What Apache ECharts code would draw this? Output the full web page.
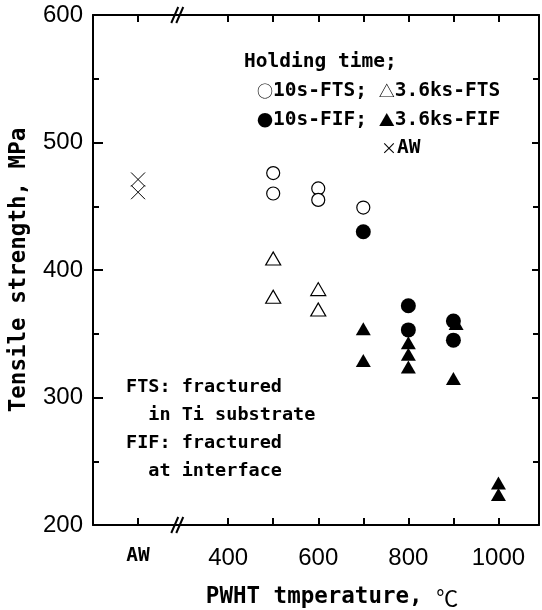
<!DOCTYPE html>
<html>
<head>
<meta charset="utf-8">
<script src="https://cdn.jsdelivr.net/npm/echarts@6/dist/echarts.min.js"></script>
<style>
html,body{margin:0;padding:0;background:#fff;}
#chart{width:542px;height:610px;}
</style>
</head>
<body>
<div id="chart"></div>
<script>
// ---- data (x = PWHT temperature in °C; AW plotted at position 200) ----
const AW_POS = 200;
const BREAK_POS = 287;
const xTickValues = [200, 400, 500, 600, 700, 800, 900, 1000];
const xLabelValues = [200, 400, 600, 800, 1000];

const awX = [200, 200];
const awY = [471, 461];

const fts10X = [500, 500, 600, 600, 700];
const fts10Y = [476, 460, 464, 455, 449];

const fif10X = [700, 800, 800, 900, 900];
const fif10Y = [430, 372, 353, 360, 345];

const fts36X = [500, 500, 600, 600];
const fts36Y = [409, 379, 385, 369];

const fif36X = [700, 700, 800, 800, 800, 906, 900, 1000, 1000];
const fif36Y = [354, 329, 343, 334, 324, 358, 315, 233, 224];

const pairs = (xs, ys) => xs.map((x, i) => [x, ys[i]]);

const MONO = '"DejaVu Sans Mono", monospace';
const SANS = '"Liberation Sans", Arial, sans-serif';
const CJK = '"Noto Sans CJK JP", sans-serif';

const chart = echarts.init(document.getElementById('chart'), null, {renderer: 'canvas'});

const axisLineStyle = {color: '#000', width: 2};
const tickStyle = {color: '#000', width: 2};

const legendRich = {
  t: {fontFamily: MONO, fontWeight: 'bold', fontSize: 19.5, fill: '#000'},
  s: {fontFamily: CJK, fontSize: 16, fill: '#000'}
};
function legendRow(left, y, text) {
  return {
    type: 'text', left: left, top: y - 12,
    style: {text: text, fontFamily: MONO, fontWeight: 'bold', fontSize: 19.5, lineHeight: 24, fill: '#000', rich: legendRich}
  };
}

const option = {
  backgroundColor: '#fff',
  animation: false,
  grid: {left: 93, right: 3, top: 15, bottom: 85, containLabel: false, outerBoundsMode: 'none'},
  xAxis: [{
    type: 'value', min: 100, max: 1090,
    axisLine: {show: true, onZero: false, lineStyle: axisLineStyle},
    axisTick: {show: true, inside: true, length: 7, customValues: xTickValues, lineStyle: tickStyle},
    axisLabel: {
      show: true, customValues: xLabelValues, margin: 21,
      color: '#000', fontFamily: SANS, fontSize: 24,
      formatter: v => v === AW_POS ? '{aw|AW}' : String(v),
      rich: {aw: {fontFamily: MONO, fontWeight: 'bold', fontSize: 19.5, color: '#000'}}
    },
    splitLine: {show: false},
    name: '{t|PWHT tmperature, }{c|℃}',
    nameLocation: 'middle', nameGap: 61,
    nameTextStyle: {
      padding: [0, 0, 0, 32],
      rich: {
        t: {fontFamily: MONO, fontWeight: 'bold', fontSize: 22.5, color: '#000'},
        c: {fontFamily: CJK, fontSize: 22, color: '#000'}
      }
    }
  }, {
    type: 'value', min: 100, max: 1090, position: 'top',
    axisLine: {show: true, onZero: false, lineStyle: axisLineStyle},
    axisTick: {show: true, inside: true, length: 7, customValues: xTickValues, lineStyle: tickStyle},
    axisLabel: {show: false},
    splitLine: {show: false}
  }],
  yAxis: [{
    type: 'value', min: 200, max: 600, interval: 100,
    axisLine: {show: true, onZero: false, lineStyle: axisLineStyle},
    axisTick: {show: true, inside: true, length: 10, lineStyle: tickStyle},
    minorTick: {show: true, splitNumber: 2, length: 6, lineStyle: tickStyle},
    axisLabel: {color: '#000', fontFamily: SANS, fontSize: 24, margin: 10},
    splitLine: {show: false},
    name: 'Tensile strength, MPa',
    nameLocation: 'middle', nameGap: 62, nameRotate: 90,
    nameTextStyle: {fontFamily: MONO, fontWeight: 'bold', fontSize: 22.5, color: '#000'}
  }, {
    type: 'value', min: 200, max: 600, interval: 100, position: 'right',
    axisLine: {show: true, onZero: false, lineStyle: axisLineStyle},
    axisTick: {show: true, inside: true, length: 7, lineStyle: tickStyle},
    minorTick: {show: true, splitNumber: 2, length: 6, lineStyle: tickStyle},
    axisLabel: {show: false},
    splitLine: {show: false}
  }],
  series: [
    {
      name: 'AW', type: 'scatter', symbol: 'path://M0,0 L10,10 M10,0 L0,10', symbolSize: 14,
      itemStyle: {color: 'none', borderColor: '#000', borderWidth: 1, opacity: 1},
      data: pairs(awX, awY)
    },
    {
      name: '3.6ks-FIF', type: 'scatter', symbol: 'triangle', symbolSize: [15, 13],
      itemStyle: {color: '#000', opacity: 1}, data: pairs(fif36X, fif36Y)
    },
    {
      name: '10s-FTS', type: 'scatter', symbol: 'circle', symbolSize: 13,
      itemStyle: {color: '#fff', borderColor: '#000', borderWidth: 1.2, opacity: 1}, data: pairs(fts10X, fts10Y)
    },
    {
      name: '10s-FIF', type: 'scatter', symbol: 'circle', symbolSize: 15,
      itemStyle: {color: '#000', opacity: 1}, data: pairs(fif10X, fif10Y)
    },
    {
      name: '3.6ks-FTS', type: 'scatter', symbol: 'triangle', symbolSize: [15, 13],
      itemStyle: {color: '#fff', borderColor: '#000', borderWidth: 1.2, opacity: 1}, data: pairs(fts36X, fts36Y)
    },
    {
      name: 'break', type: 'custom', silent: true, clip: false,
      data: [[BREAK_POS, 200], [BREAK_POS, 600]],
      renderItem: (params, api) => {
        const p = api.coord([api.value(0), api.value(1)]);
        const h = 8, d = 3.5, g = 5;
        return {
          type: 'group',
          children: [-g / 2, g / 2].map(o => ({
            type: 'line',
            shape: {x1: p[0] + o - d, y1: p[1] + h, x2: p[0] + o + d, y2: p[1] - h},
            style: {stroke: '#000', lineWidth: 2}
          }))
        };
      }
    }
  ],
  graphic: [
    legendRow(244, 62, '{t|Holding time;}'),
    legendRow(257, 91, '{s|○}{t|10s-FTS; }{s|△}{t|3.6ks-FTS}'),
    legendRow(257, 119.5, '{s|●}{t|10s-FIF; }{s|▲}{t|3.6ks-FIF}'),
    legendRow(381, 148, '{s|×}{t|AW}'),
    {
      type: 'text', left: 126, top: 373,
      style: {
        text: 'FTS: fractured\n  in Ti substrate\nFIF: fractured\n  at interface',
        fontFamily: MONO, fontWeight: 'bold', fontSize: 18.5, lineHeight: 28, fill: '#000'
      }
    }
  ]
};
chart.setOption(option);
</script>
</body>
</html>
